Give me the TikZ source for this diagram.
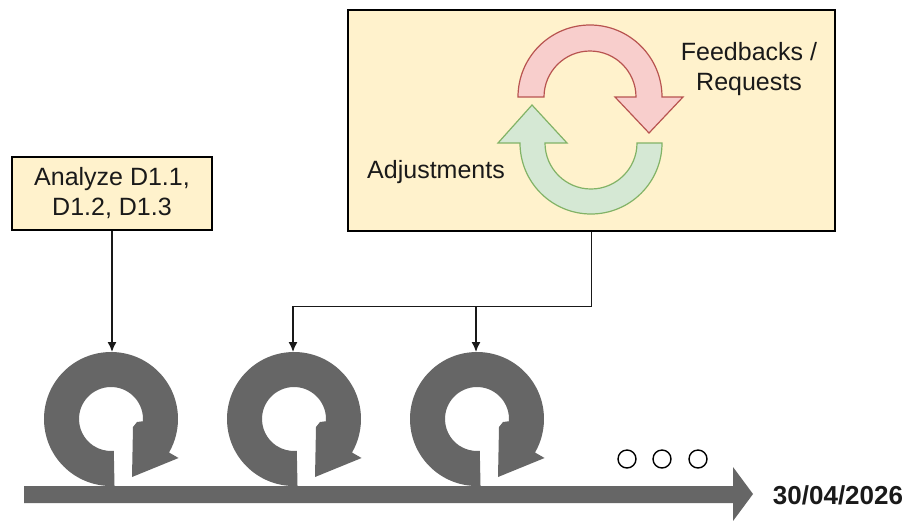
\documentclass[tikz,border=0pt]{standalone}
\usepackage{fontspec}
\setmainfont{Liberation Sans}
\usetikzlibrary{arrows.meta,calc}
\definecolor{boxfill}{HTML}{FFF2CC}
\definecolor{ringgray}{HTML}{666666}
\definecolor{redfill}{HTML}{F8CECC}
\definecolor{redline}{HTML}{B85450}
\definecolor{greenfill}{HTML}{D5E8D4}
\definecolor{greenline}{HTML}{82B366}
\definecolor{txtcol}{HTML}{1A1A1A}
\newcommand{\loopring}[1]{%
  \fill[ringgray] ($(#1)+(87:67)$) arc[start angle=87, end angle=390, radius=67]
    -- ($(#1)+(30:78)$) -- ($(#1)+(21,58)$) -- ($(#1)+(22,8)$) -- ($(#1)+(26,3)$)
    -- ($(#1)+(364:32)$) arc[start angle=364, end angle=85, radius=32] -- cycle;}
\begin{document}
\begin{tikzpicture}[x=1pt,y=-1pt,
  txt/.style={font=\fontsize{25}{30}\selectfont, text=txtcol, inner sep=0pt},
  box/.style={draw=black, line width=2.5pt, fill=boxfill, inner sep=0pt},
  conn/.style={draw=black!90, line width=1.5pt, -{Latex[length=10pt,width=9pt]}},
  dotnode/.style={circle, draw=black, line width=1.4pt, minimum size=18pt, inner sep=0pt},
  cyclered/.style={fill=redfill, draw=redline, line width=1.2pt},
  cyclegreen/.style={fill=greenfill, draw=greenline, line width=1.2pt}]
\useasboundingbox (0,0) rectangle (909,520);
\fill[white] (0,0) rectangle (909,520);

% timeline arrow
\fill[ringgray] (24,486) -- (733,486) -- (733,467) -- (753,494) -- (733,521)
  -- (733,503) -- (24,503) -- cycle;

% loop rings
\coordinate (c1) at (111,419);
\coordinate (c2) at (294,419);
\coordinate (c3) at (477,419);
\loopring{c1}
\loopring{c2}
\loopring{c3}
\coordinate (r1top) at (112,352);
\coordinate (r2top) at (293,352);
\coordinate (r3top) at (476,352);

% boxes
\node[box, txt, minimum width=200pt, minimum height=73pt, align=center] (a) at (112,193.5)
  {Analyze D1.1,\\D1.2, D1.3};
\node[box, minimum width=487pt, minimum height=221pt] (b) at (591.5,120.5) {};

% cycle arrows
\path[cyclered] (518,97) arc[start angle=180, end angle=360, radius=72]
  -- (683,97) -- (649,133) -- (615,97) -- (636,97)
  arc[start angle=360, end angle=180, radius=46] -- cycle;
\path[cyclegreen] (662,143) arc[start angle=0, end angle=180, radius=71]
  -- (498,143) -- (532,105) -- (567,143) -- (545,143)
  arc[start angle=180, end angle=0, radius=46] -- cycle;

\node[txt, anchor=base] (adj) at (436,178) {Adjustments};
\node[txt, align=center] (fb) at (749,69) {Feedbacks /\\Requests};

% connectors
\draw[conn] (a.south) -- (a.south |- r1top);
\draw[conn] (b.south) -- ++(0,74) -| (r2top);
\draw[conn] (b.south) -- ++(0,74) -| (r3top);

% dots
\node[dotnode] (d1) at (627,459) {};
\node[dotnode] (d2) at (662,459) {};
\node[dotnode] (d3) at (698,459) {};

% date
\node[font=\fontsize{26}{30}\selectfont\bfseries, text=txtcol, inner sep=0pt, anchor=base] (date) at (838,504) {30/04/2026};
\end{tikzpicture}
\end{document}
